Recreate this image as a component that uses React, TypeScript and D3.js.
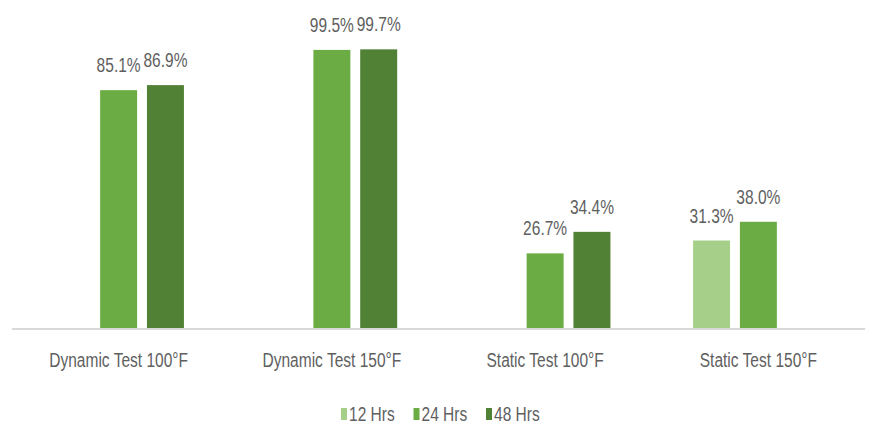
import React from "react";
import * as d3 from "d3";

const categories = ["Dynamic Test 100°F", "Dynamic Test 150°F", "Static Test 100°F", "Static Test 150°F"];
const seriesNames = ["12 Hrs", "24 Hrs", "48 Hrs"];
const hrs12: (number | null)[] = [null, null, null, 31.3];
const hrs24: (number | null)[] = [85.1, 99.5, 26.7, 38.0];
const hrs48: (number | null)[] = [86.9, 99.7, 34.4, null];
const seriesColors = ["#a6d08a", "#6cac45", "#518134"];

const W = 869;
const H = 426;
const FONT = "'Liberation Sans', Arial, sans-serif";
const SX = 0.74;
const TEXT_COLOR = "#5f5f5f";

export default function App() {
  const values = [hrs12, hrs24, hrs48];
  const x0 = d3.scaleBand<string>().domain(categories).range([12, 865]).paddingInner(0.3876).paddingOuter(0.1938);
  const x1 = d3.scaleBand<string>().domain(seriesNames).range([0, x0.bandwidth()]).paddingInner(0.21);
  const y = d3.scaleLinear().domain([0, 100]).range([328, 48.5]);

  return (
    <div style={{ position: "absolute", left: 0, top: 0 }}>
      <svg width={W} height={H} style={{ display: "block", background: "#fff" }}>
        <line x1={12} x2={865} y1={y(0) + 1} y2={y(0) + 1} stroke="#d9d9d9" strokeWidth={2} />
        {categories.map((c, ci) =>
          seriesNames.map((s, si) => {
            const v = values[si][ci];
            if (v == null) return null;
            const bx = (x0(c) ?? 0) + (x1(s) ?? 0);
            const bw = x1.bandwidth();
            return (
              <g key={c + s}>
                <rect x={bx} y={y(v)} width={bw} height={y(0) - y(v)} fill={seriesColors[si]} />
                <text
                  transform={`translate(${bx + bw / 2},${y(v) - 18}) scale(${SX},1)`}
                  textAnchor="middle"
                  fontFamily={FONT}
                  fontSize={21}
                  fill={TEXT_COLOR}
                >
                  {v.toFixed(1) + "%"}
                </text>
              </g>
            );
          })
        )}
        {categories.map((c) => (
          <text
            key={c}
            transform={`translate(${(x0(c) ?? 0) + x0.bandwidth() / 2},367) scale(${SX},1)`}
            textAnchor="middle"
            fontFamily={FONT}
            fontSize={21}
            fill={TEXT_COLOR}
          >
            {c}
          </text>
        ))}
        {seriesNames.map((s, i) => {
          const lx = 341 + i * 72.5;
          return (
            <g key={s}>
              <rect x={lx} y={408} width={6} height={12} fill={seriesColors[i]} />
              <text
                transform={`translate(${lx + 8},421) scale(${SX},1)`}
                fontFamily={FONT}
                fontSize={21}
                fill={TEXT_COLOR}
              >
                {s}
              </text>
            </g>
          );
        })}
      </svg>
    </div>
  );
}
